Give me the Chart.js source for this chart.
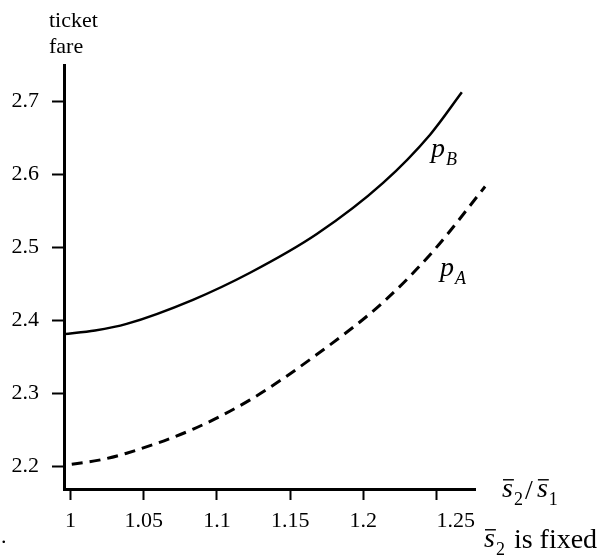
<!DOCTYPE html>
<html>
<head>
<meta charset="utf-8">
<script src="https://cdn.jsdelivr.net/npm/chart.js@4.4.0/dist/chart.umd.min.js"></script>
<style>
  html, body { margin: 0; padding: 0; background: #fff; }
  #wrap { width: 606px; height: 560px; position: relative; }
</style>
</head>
<body>
<div id="wrap"><canvas id="fareChart"></canvas></div>
<script>
// values (ratio s2/s1 -> ticket fare)
var ratioB = [0.9955, 1.0167, 1.0383, 1.0836, 1.1226, 1.1682, 1.2135, 1.2456, 1.2673];
var fareB  = [2.381, 2.386, 2.395, 2.428, 2.465, 2.518, 2.588, 2.654, 2.712];
var ratioA = [1.0008, 1.0194, 1.0383, 1.0838, 1.1226, 1.1682, 1.2137, 1.2479, 1.2832];
var fareA  = [2.203, 2.2085, 2.218, 2.251, 2.291, 2.353, 2.425, 2.495, 2.583];
var xTicks = [1, 1.05, 1.1, 1.15, 1.2, 1.25];
var yTicks = [2.2, 2.3, 2.4, 2.5, 2.6, 2.7];

var serif = '"Liberation Serif", "Times New Roman", serif';

function toPoints(xs, ys) {
  return xs.map(function (v, i) { return { x: v, y: ys[i] }; });
}

// letter with an optional bar over it, followed by a subscript
function symbol(ctx, letter, sub, x, y, size, bar) {
  ctx.font = 'italic ' + size + 'px ' + serif;
  ctx.fillText(letter, x, y);
  var w = ctx.measureText(letter).width;
  if (bar) {
    ctx.fillRect(x + 1, y - size * 0.64, w, 1.4);
  }
  ctx.font = (bar ? '' : 'italic ') + Math.round(size * 0.66) + 'px ' + serif;
  ctx.fillText(sub, x + w + 1, y + size * 0.28);
  return x + w + 1 + ctx.measureText(sub).width;
}

var notes = {
  id: 'notes',
  afterDraw: function (chart) {
    var ctx = chart.ctx;
    ctx.save();
    ctx.fillStyle = '#000';
    ctx.textBaseline = 'alphabetic';
    ctx.textAlign = 'left';

    ctx.font = '22px ' + serif;
    ctx.fillText('ticket', 49, 27);
    ctx.fillText('fare', 49, 53);
    ctx.fillText('.', 1, 543);

    symbol(ctx, 'p', 'B', 431, 157, 28, false);
    symbol(ctx, 'p', 'A', 440, 276, 28, false);

    // axis title
    var nx = symbol(ctx, 's', '2', 502, 497, 28, true);
    ctx.font = '28px ' + serif;
    ctx.fillText('/', nx + 2, 499);
    symbol(ctx, 's', '1', nx + 14, 497, 28, true);

    nx = symbol(ctx, 's', '2', 484, 547, 28, true);
    ctx.font = '28px ' + serif;
    ctx.fillText('is fixed', nx + 9, 548);
    ctx.restore();
  }
};

new Chart(document.getElementById('fareChart'), {
  type: 'line',
  data: {
    datasets: [{
      label: 'p_B',
      data: toPoints(ratioB, fareB),
      borderColor: '#000',
      borderWidth: 2.5,
      pointRadius: 0,
      cubicInterpolationMode: 'monotone',
      fill: false,
      clip: false
    }, {
      label: 'p_A',
      data: toPoints(ratioA, fareA),
      borderColor: '#000',
      borderWidth: 3,
      borderDash: [11, 7],
      pointRadius: 0,
      cubicInterpolationMode: 'monotone',
      fill: false,
      clip: false
    }]
  },
  options: {
    responsive: true,
    maintainAspectRatio: false,
    animation: false,
    layout: { padding: { top: 65, right: 131, left: 0, bottom: 0 } },
    plugins: { legend: { display: false }, tooltip: { enabled: false } },
    scales: {
      x: {
        type: 'linear',
        min: 0.9955,
        max: 1.2763,
        afterFit: function (s) { s.height = 71; },
        afterBuildTicks: function (s) { s.ticks = xTicks.map(function (v) { return { value: v }; }); },
        grid: { drawOnChartArea: false, tickLength: 11, tickColor: '#000', tickWidth: 2 },
        border: { display: true, color: '#000', width: 3 },
        ticks: {
          color: '#000',
          font: { family: serif, size: 22 },
          padding: 8,
          maxRotation: 0,
          autoSkip: false,
          callback: function (v) { return v === 1.25 ? '       1.25' : String(v); }
        }
      },
      y: {
        type: 'linear',
        min: 2.169,
        max: 2.7494,
        afterFit: function (s) { s.width = 64; },
        afterBuildTicks: function (s) { s.ticks = yTicks.map(function (v) { return { value: v }; }); },
        grid: { drawOnChartArea: false, tickLength: 12, tickColor: '#000', tickWidth: 2 },
        border: { display: true, color: '#000', width: 3 },
        ticks: {
          color: '#000',
          font: { family: serif, size: 22 },
          padding: 13,
          callback: function (v) { return String(v); }
        }
      }
    }
  },
  plugins: [notes]
});
</script>
</body>
</html>
